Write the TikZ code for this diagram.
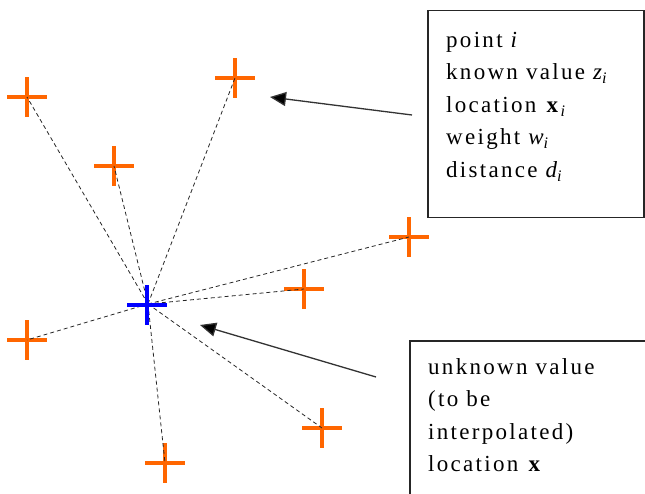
\documentclass[tikz,border=0pt]{standalone}
\usepackage{fontspec}
\setmainfont{Liberation Serif}
\newfontfamily\boxfont[LetterSpace=10]{Liberation Serif}
\usetikzlibrary{shapes.misc,arrows.meta}
\definecolor{ptorange}{HTML}{FF6600}
\definecolor{ptblue}{HTML}{0000FF}
\tikzset{
  plusmark/.style={cross out, rotate=45, minimum size=24pt, inner sep=0pt, line width=4pt},
  known/.style={plusmark, draw=ptorange},
  unknown/.style={plusmark, draw=ptblue},
  link/.style={draw=black!85, line width=0.8pt, dash pattern=on 4pt off 3pt},
  pointer/.style={draw=black!80, line width=1.3pt, -{Triangle[length=16pt,width=14pt,fill=black]}},
  frame/.style={draw=black!85, line width=1.5pt, inner sep=0pt, anchor=north west},
  label/.style={font=\boxfont\fontsize{23}{32.5}\selectfont, align=left, inner sep=0pt, anchor=north west}
}
\begin{document}
\begin{tikzpicture}[x=1pt,y=-1pt]
\useasboundingbox (0,0) rectangle (645,494);
% known points
\node[known] (p1) at (27,97) {};
\node[known] (p2) at (114,166) {};
\node[known] (p3) at (235,78) {};
\node[known] (p4) at (409,237) {};
\node[known] (p5) at (304,289) {};
\node[known] (p6) at (322,428) {};
\node[known] (p7) at (27,340) {};
\node[known] (p8) at (165,463) {};
% dashed links
\foreach \p in {p1,p2,p3,p4,p5,p6,p7,p8}
  \draw[link] (148,304) -- (\p.center);
% unknown point
\node[unknown] (u) at (147,305) {};
% top box
\node[frame, minimum width=216pt, minimum height=207pt] (tbox) at (427,10) {};
\node[label] (ttext) at (446,32) {point \textit{i}\\known value \textit{z\textsubscript{i}}\\location \textbf{x}\textsubscript{\textit{i}}\\weight \textit{w\textsubscript{i}}\\distance \textit{d\textsubscript{i}}};
% bottom box (clipped by page)
\coordinate (bbl) at (410,494);
\coordinate (btl) at (410,341);
\coordinate (btr) at (645,341);
\draw[draw=black!85, line width=1.5pt] (bbl) -- (btl) -- (btr);
\node[label] (btext) at (428,358) {unknown value\\(to be\\interpolated)\\location \textbf{x}};
% pointers
\coordinate (a1s) at (412,115);
\coordinate (a1e) at (270,97);
\coordinate (a2s) at (376,377);
\coordinate (a2e) at (200,325);
\draw[pointer] (a1s) -- (a1e);
\draw[pointer] (a2s) -- (a2e);
\end{tikzpicture}
\end{document}
